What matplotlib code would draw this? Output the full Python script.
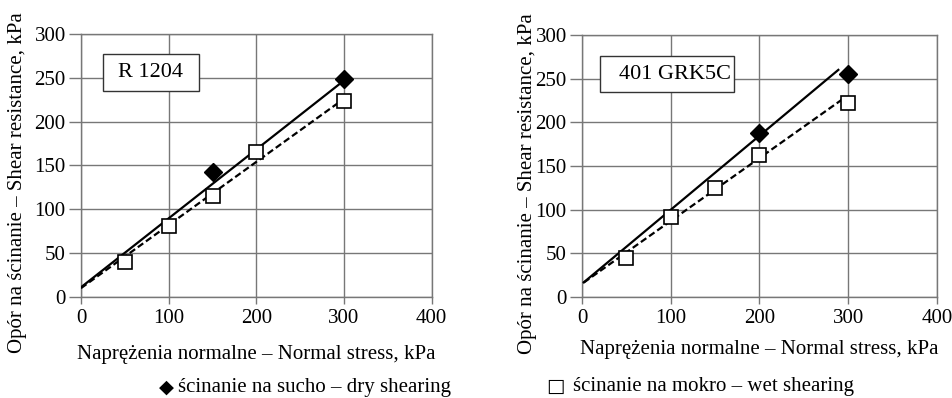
import matplotlib
matplotlib.use("Agg")
import matplotlib.pyplot as plt
import numpy as np

plt.rcParams['font.family'] = ['Liberation Serif', 'DejaVu Serif']

# Data
labels = ["R 1204", "401 GRK5C"]
# R 1204
r_dry_x = [150, 300]
r_dry_y = [142, 248]
r_wet_x = [50, 100, 150, 200, 300]
r_wet_y = [40, 81, 115, 165, 223]
r_dry_fit = (0.786, 11.0)   # slope, intercept
r_wet_fit = (0.72, 10.0)
r_dry_range = (0, 299)
r_wet_range = (0, 303)
# 401 GRK5C
g_dry_x = [200, 300]
g_dry_y = [188, 255]
g_wet_x = [50, 100, 150, 200, 300]
g_wet_y = [44, 92, 125, 162, 222]
g_dry_fit = (0.848, 15.0)
g_wet_fit = (0.72, 15.0)
g_dry_range = (2, 289)
g_wet_range = (2, 296)

xticks = [0, 100, 200, 300, 400]
yticks = [0, 50, 100, 150, 200, 250, 300]
xlabel = "Naprężenia normalne – Normal stress, kPa"
ylabel = "Opór na ścinanie – Shear resistance, kPa"
leg_dry = "ścinanie na sucho – dry shearing"
leg_wet = "ścinanie na mokro – wet shearing"

fig = plt.figure(figsize=(9.53, 3.98), dpi=100)
ax1 = fig.add_axes([0.085, 0.254, 0.368, 0.661])
ax2 = fig.add_axes([0.6107, 0.254, 0.3723, 0.658])

FS = 15
panels = [
    (ax1, labels[0], r_dry_x, r_dry_y, r_wet_x, r_wet_y, r_dry_fit, r_wet_fit, r_dry_range, r_wet_range,
     (0.063, 0.783, 0.336, 0.924), 0.5, (-0.182, 0.433), -0.22),
    (ax2, labels[1], g_dry_x, g_dry_y, g_wet_x, g_wet_y, g_dry_fit, g_wet_fit, g_dry_range, g_wet_range,
     (0.051, 0.782, 0.428, 0.920), 0.56, (-0.155, 0.433), -0.2),
]
for ax, lab, dx, dy, wx, wy, dfit, wfit, drng, wrng, box, tpos, ylc, xly in panels:
    ax.set_xlim(0, 400)
    ax.set_ylim(0, 300)
    ax.set_xticks(xticks)
    ax.set_yticks(yticks)
    ax.grid(True, color='#777777', linewidth=1.0)
    ax.set_axisbelow(True)
    for s in ax.spines.values():
        s.set_color('#777777')
        s.set_linewidth(1.0)
    ax.tick_params(direction='out', width=1.0, color='#777777', labelsize=FS, pad=2)
    ax.tick_params(axis='y', length=9)
    ax.tick_params(axis='x', length=5, pad=4)
    xs = np.array(drng)
    ax.plot(xs, dfit[0] * xs + dfit[1], color='black', lw=1.6, zorder=3)
    xs = np.array(wrng)
    ax.plot(xs, wfit[0] * xs + wfit[1], color='black', lw=1.6, ls=(0, (3, 1.5)), zorder=3)
    ax.plot(dx, dy, ls='none', marker='D', ms=9, color='black', zorder=4)
    ax.plot(wx, wy, ls='none', marker='s', ms=10, mfc='white', mec='black', mew=1.2, zorder=5)
    ax.set_xlabel(xlabel, fontsize=FS)
    ax.xaxis.set_label_coords(0.5, xly)
    ax.xaxis.label.set_va('center')
    ax.set_ylabel(ylabel, fontsize=FS)
    ax.yaxis.set_label_coords(*ylc)
    ax.yaxis.label.set_va('center')
    x0, y0, x1, y1 = box
    ax.add_patch(plt.Rectangle((x0, y0), x1 - x0, y1 - y0, transform=ax.transAxes,
                               facecolor='white', edgecolor='#333333', lw=1.0, zorder=6, clip_on=False))
    ax.text(x0 + (x1 - x0) * tpos, (y0 + y1) / 2, lab,
            transform=ax.transAxes, ha='center', va='center', fontsize=FS + 1, zorder=7)

fig.text(0.167, 0.026, "◆", fontsize=FS - 1, ha='left', va='center', family=['DejaVu Sans'])
fig.text(0.187, 0.026, leg_dry, fontsize=FS, ha='left', va='center')
fig.text(0.573, 0.03, "□", fontsize=FS - 1, ha='left', va='center', family=['DejaVu Sans'])
fig.text(0.601, 0.03, leg_wet, fontsize=FS, ha='left', va='center')

fig.savefig("out.png", dpi=100)
